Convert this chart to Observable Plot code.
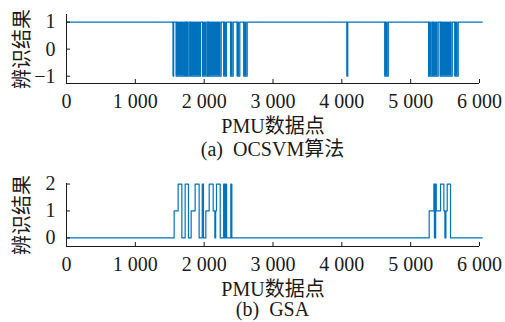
<!DOCTYPE html>
<html><head><meta charset="utf-8">
<script src="https://cdn.jsdelivr.net/npm/d3@7"></script>
<script src="https://cdn.jsdelivr.net/npm/@observablehq/plot@0.6"></script>
<style>
body{margin:0;background:#fff;}
#wrap{position:relative;width:505px;height:322px;font-family:"Liberation Serif","Noto Sans CJK SC",serif;color:#1a1a1a;}
.panel{position:absolute;left:0;}
.cap{position:absolute;left:66px;width:413px;text-align:center;font-size:20px;line-height:20px;white-space:pre;}
</style></head><body><div id="wrap"></div>
<script>
// ---- data ----
const xTicks = [0, 1000, 2000, 3000, 4000, 5000, 6000];
const xEnd = 6040;
const xLabel = "PMU数据点";
const yLabel = "辨识结果";
const captions = ["(a)  OCSVM算法", "(b)  GSA"];

// OCSVM: output 1 (normal) except intervals where output is -1
const ocsvmTicks = [-1, 0, 1];
const ocsvmNormal = 1;
const ocsvmAnomaly = -1;
const ocsvmAnomStart = [1550, 1594, 1727, 1743, 1801, 1976, 2052, 2063, 2285, 2383, 2480, 2576, 4075, 4625, 5260, 5322, 5430, 5642];
const ocsvmAnomEnd   = [1557, 1714, 1733, 1783, 1947, 2044, 2056, 2247, 2324, 2422, 2518, 2625, 4086, 4675, 5308, 5400, 5604, 5691];

// GSA: step series, value holds from change point until next
const gsaTicks = [0, 1, 2];
const gsaChangeX = [0, 1564, 1622, 1676, 1724, 1772, 1811, 1869, 1927, 1972, 1990, 2024, 2073, 2131, 2155, 2167, 2179, 2233, 2283, 2298, 2310, 2326, 2387, 2402,
                    5269, 5337, 5345, 5350, 5358, 5363, 5372, 5434, 5482, 5497, 5512, 5531, 5579];
const gsaValue   = [0, 1, 2, 0, 2, 0, 1, 2, 0, 2, 0, 1, 2, 1, 0, 1, 2, 0, 2, 0, 2, 0, 2, 0,
                    1, 2, 0, 2, 0, 2, 1, 2, 1, 0, 1, 2, 0];

// ---- build ----
const blue = "#0072BD";
const ink = "#1a1a1a";
const fmtX = d => d3.format(",")(d).replace(/,/g, " ");
const fmtY = d => (d < 0 ? "\u2212" : "") + Math.abs(d);

const ocsvmIntervals = ocsvmAnomStart.map((s, i) => ({s, e: ocsvmAnomEnd[i]}));
const ocsvmPts = [{x: 0, y: ocsvmNormal}];
for (const {s, e} of ocsvmIntervals) {
  ocsvmPts.push({x: s, y: ocsvmNormal}, {x: s, y: ocsvmAnomaly}, {x: e, y: ocsvmAnomaly}, {x: e, y: ocsvmNormal});
}
ocsvmPts.push({x: xEnd, y: ocsvmNormal});

const gsaPts = gsaChangeX.map((x, i) => ({x, y: gsaValue[i]}));
gsaPts.push({x: xEnd, y: gsaValue[gsaValue.length - 1]});

const style = {fontFamily: '"Liberation Serif","Noto Sans CJK SC",serif', fontSize: "20px", color: ink, background: "transparent", overflow: "visible"};

function axes(yTicks, yDomain, labelShift) {
  return [
    Plot.ruleX([xTicks[0]], {stroke: ink, strokeWidth: 1}),
    Plot.ruleY([yDomain[0]], {stroke: ink, strokeWidth: 1}),
    Plot.axisX({ticks: xTicks, tickSize: -4, tickPadding: 14, tickFormat: fmtX, label: xLabel, labelAnchor: "center", labelArrow: "none", stroke: ink, fill: ink}),
    Plot.axisY({ticks: yTicks, tickSize: -4, tickPadding: 15, tickFormat: fmtY, label: null, stroke: ink, fill: ink}),
    Plot.axisY({ticks: [], label: yLabel, labelAnchor: "center", labelArrow: "none", labelOffset: 52, dy: labelShift, fill: ink})
  ];
}

const yA = [-1.27, 1.28];
const plotA = Plot.plot({
  width: 505, height: 135, marginLeft: 66, marginRight: 26, marginTop: 14, marginBottom: 52,
  x: {domain: [0, 6000]}, y: {domain: yA},
  style,
  marks: [
    Plot.rect(ocsvmIntervals, {x1: "s", x2: "e", y1: () => ocsvmAnomaly, y2: () => ocsvmNormal, fill: blue}),
    Plot.line(ocsvmPts, {x: "x", y: "y", stroke: blue, strokeWidth: 1.2}),
    ...axes(ocsvmTicks, yA, 6)
  ]
});

const yB = [-0.32, 2.02];
const plotB = Plot.plot({
  width: 505, height: 136, marginLeft: 66, marginRight: 26, marginTop: 21, marginBottom: 52,
  x: {domain: [0, 6000]}, y: {domain: yB},
  style,
  marks: [
    Plot.line(gsaPts, {x: "x", y: "y", curve: "step-after", stroke: blue, strokeWidth: 1.2}),
    ...axes(gsaTicks, yB, -1)
  ]
});

const wrap = document.getElementById("wrap");
plotA.classList.add("panel"); plotA.style.top = "0px";
plotB.classList.add("panel"); plotB.style.top = "162px";
wrap.appendChild(plotA);
wrap.appendChild(plotB);
[[captions[0], 139], [captions[1], 299]].forEach(([t, top]) => {
  const d = document.createElement("div");
  d.className = "cap"; d.style.top = top + "px"; d.textContent = t;
  wrap.appendChild(d);
});
</script></body></html>
